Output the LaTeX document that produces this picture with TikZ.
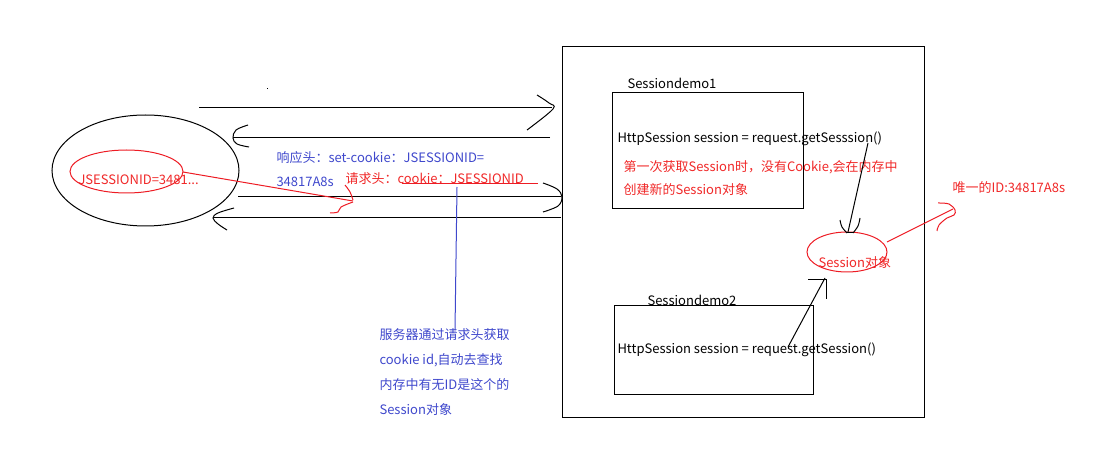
\documentclass[tikz,border=0pt]{standalone}
\usepackage{fontspec}
\setmainfont{Noto Sans CJK SC}
\usetikzlibrary{shapes.geometric}
\definecolor{rline}{RGB}{237,28,36}
\definecolor{rtext}{RGB}{240,40,40}
\definecolor{btext}{RGB}{63,72,204}
\begin{document}
\begin{tikzpicture}[x=0.75pt,y=-0.75pt,line width=0.75pt,
  txt/.style={font=\fontsize{9.75}{12}\selectfont,inner sep=0pt,anchor=west},
  redtxt/.style={txt,text=rtext},
  bluetxt/.style={txt,text=btext},
  oval/.style={draw,ellipse,inner sep=0pt},
  conn/.style={draw,line width=0.75pt},
  rconn/.style={draw=rline,line width=0.75pt},
  head/.style={draw,line width=0.75pt,smooth,tension=0.6}]
\useasboundingbox (0,0) rectangle (1103,452);

% frames
\draw (562,47) rectangle (924,417);
\node[draw,minimum width=143.25pt,minimum height=87pt,inner sep=0pt,anchor=north west] (demo1) at (612,92) {};
\node[draw,minimum width=149.25pt,minimum height=66.75pt,inner sep=0pt,anchor=north west] (demo2) at (614,305) {};

% ellipses
\node[oval,minimum width=140.25pt,minimum height=83.25pt] (client) at (145.5,170.5) {};
\node[oval,draw=rline,minimum width=84.75pt,minimum height=32.25pt] (jsid) at (126.5,171.5) {};
\node[oval,draw=rline,minimum width=60pt,minimum height=30pt] (sess) at (847,252) {};

% texts
\node[redtxt] (jsidtxt) at (78,180) {JSESSIONID=3481...};
\node[bluetxt] (resp1) at (276,158) {响应头：set-cookie：JSESSIONID=};
\node[bluetxt] (resp2) at (276,182) {34817A8s};
\node[redtxt] (req) at (345,179) {请求头：cookie：JSESSIONID};
\node[txt] (d1lbl) at (627,83) {Sessiondemo1};
\node[txt] (d1code) at (617,139) {HttpSession session = request.getSesssion()};
\node[redtxt] (d1n1) at (623,167) {第一次获取Session时，没有Cookie,会在内存中};
\node[redtxt] (d1n2) at (623,190) {创建新的Session对象};
\node[txt] (d2lbl) at (647,300) {Sessiondemo2};
\node[txt] (d2code) at (617,350) {HttpSession session = request.getSession()};
\node[redtxt] (sesstxt) at (818,263) {Session对象};
\node[redtxt] (uid) at (952,188) {唯一的ID:34817A8s};
\node[bluetxt] (srv1) at (379,335) {服务器通过请求头获取};
\node[bluetxt] (srv2) at (379,360) {cookie id,自动去查找};
\node[bluetxt] (srv3) at (379,385) {内存中有无ID是这个的};
\node[bluetxt] (srv4) at (379,410) {Session对象};

% connector end points
\coordinate (a1s) at (199,108); \coordinate (a1e) at (552,108);
\coordinate (a2s) at (550,138); \coordinate (a2e) at (233,138);
\coordinate (a3s) at (238,197); \coordinate (a3e) at (561,197);
\coordinate (a4s) at (561,218); \coordinate (a4e) at (213,218);
\coordinate (rls) at (183,172); \coordinate (rle) at (353,201);
\coordinate (ul1) at (402,184); \coordinate (ul2) at (538,184);
\coordinate (bls) at (457,187); \coordinate (ble) at (455,330);
\coordinate (k1s) at (868,143); \coordinate (k1e) at (848,232);
\coordinate (k2s) at (788,347); \coordinate (k2e) at (825,278);
\coordinate (r2s) at (887,242); \coordinate (r2e) at (953,209);

% arrows between client and server
\draw[conn] (a1s) -- (a1e);
\draw[head,shift={(a1e)}] plot coordinates {(-15,-13) (-3,-5) (1,1) (-25,22)};
\draw[conn] (a2s) -- (a2e);
\draw[head,shift={(a2e)}] plot coordinates {(15,-13) (3,-8) (0,0) (4,6) (16,9)};
\draw[conn] (a3s) -- (a3e);
\draw[head,shift={(a3e)}] plot coordinates {(-18,-14) (-4,-8) (1,0) (-3,9) (-18,15)};
\draw[conn] (a4s) -- (a4e);
\draw[head,shift={(a4e)}] plot coordinates {(21,-10) (5,-5) (0,0) (5,6) (14,12)};

% red link from JSESSIONID
\draw[rconn] (rls) -- (rle);
\draw[head,draw=rline,shift={(rle)}] plot coordinates {(-8,-16) (-3,-9) (0,-1)};
\draw[head,draw=rline,shift={(rle)}] plot coordinates {(0,1) (-12,6) (-15,11) (-23,12)};
\draw[rconn] (ul1) -- (ul2);

% blue pointer
\draw[draw=btext,line width=0.75pt] (bls) -- (ble);

% session arrows
\draw[conn] (k1s) -- (k1e);
\draw[head,shift={(k1e)}] plot coordinates {(-8,-12) (-6,-5) (-1,1)};
\draw[head,shift={(k1e)}] plot coordinates {(12,-14) (10,-6) (5,1)};
\draw[conn,shift={(k1e)}] (-1,1) -- (5,1);
\draw[conn] (k2s) -- (k2e);
\draw[conn,shift={(k2e)}] (-17,2) -- (1,2) -- (1,21);

% red arrow to unique id
\draw[rconn] (r2s) -- (r2e);
\draw[head,draw=rline,shift={(r2e)}] plot coordinates {(-15,-6) (-4,-5) (2,1) (1,6) (-6,9) (-14,16) (-16,22)};

% stray dot
\fill (266.5,88.5) rectangle (267.5,89.5);
\end{tikzpicture}
\end{document}
